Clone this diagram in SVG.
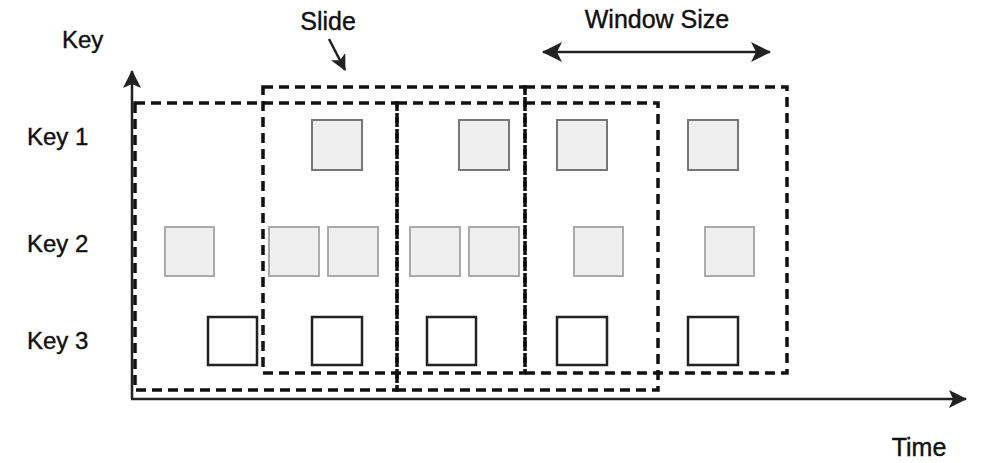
<svg xmlns="http://www.w3.org/2000/svg" width="1000" height="463" viewBox="0 0 1000 463">
<style>
text{font-family:"Liberation Sans",Arial,sans-serif;fill:#111;stroke:#111;stroke-width:0.4;}
.lbl{font-size:24px;}
.top{font-size:25px;}
.win{fill:none;stroke:#111;stroke-width:3.5;stroke-dasharray:10 6;}
.k1{fill:#efefef;stroke:#777;stroke-width:2;}
.k2{fill:#efefef;stroke:#aaa;stroke-width:2;}
.k3{fill:#fff;stroke:#222;stroke-width:2.5;}
.ax{stroke:#222;stroke-width:2.5;fill:none;}
</style>
<defs>
<marker id="ah" viewBox="0 0 16 16" refX="15" refY="8" markerWidth="16" markerHeight="16" markerUnits="userSpaceOnUse" orient="auto-start-reverse">
<path d="M0,0 L16,8 L0,16 L4,8 Z" fill="#222"/>
</marker>
<marker id="ah2" viewBox="0 0 20 20" refX="19" refY="10" markerWidth="20" markerHeight="20" markerUnits="userSpaceOnUse" orient="auto-start-reverse">
<path d="M0,0 L20,10 L0,20 L5,10 Z" fill="#222"/>
</marker>
<marker id="ah3" viewBox="0 0 18 18" refX="17" refY="9" markerWidth="18" markerHeight="18" markerUnits="userSpaceOnUse" orient="auto">
<path d="M0,0 L18,9 L0,18 L4,9 Z" fill="#222"/>
</marker>
</defs>
<g id="labels">
<text class="lbl" x="62" y="48">Key</text>
<text class="lbl" x="27" y="145">Key 1</text>
<text class="lbl" x="27" y="252">Key 2</text>
<text class="lbl" x="27" y="349">Key 3</text>
<text class="top" x="328" y="30" text-anchor="middle">Slide</text>
<text class="top" x="657" y="28" text-anchor="middle">Window Size</text>
<text class="top" x="919" y="456" text-anchor="middle">Time</text>
</g>
<g id="windows">
<rect id="w1" class="win" x="135" y="103" width="262" height="287"/>
<rect id="w2" class="win" x="263" y="87" width="262" height="286"/>
<rect id="w3" class="win" x="397" y="103" width="261" height="287"/>
<rect id="w4" class="win" x="525" y="87" width="262" height="286"/>
</g>
<g id="key1-events">
<rect class="k1" x="312" y="120" width="50" height="50"/>
<rect class="k1" x="459" y="120" width="50" height="50"/>
<rect class="k1" x="557" y="120" width="50" height="50"/>
<rect class="k1" x="688" y="120" width="50" height="50"/>
</g>
<g id="key2-events">
<rect class="k2" x="165" y="227" width="49" height="49"/>
<rect class="k2" x="269" y="227" width="50" height="49"/>
<rect class="k2" x="328" y="227" width="50" height="49"/>
<rect class="k2" x="410" y="227" width="50" height="49"/>
<rect class="k2" x="469" y="227" width="50" height="49"/>
<rect class="k2" x="574" y="227" width="49" height="49"/>
<rect class="k2" x="705" y="227" width="49" height="49"/>
</g>
<g id="key3-events">
<rect class="k3" x="208" y="317" width="49" height="48"/>
<rect class="k3" x="312" y="317" width="50" height="48"/>
<rect class="k3" x="427" y="317" width="49" height="48"/>
<rect class="k3" x="557" y="317" width="50" height="48"/>
<rect class="k3" x="688" y="317" width="50" height="48"/>
</g>
<g id="connectors">
<line class="ax" x1="132" y1="399" x2="132" y2="71" marker-end="url(#ah3)"/>
<line class="ax" x1="131" y1="399" x2="966" y2="399" marker-end="url(#ah3)"/>
<line class="ax" x1="329" y1="39" x2="345" y2="70" marker-end="url(#ah)"/>
<line class="ax" x1="543" y1="52" x2="770" y2="52" stroke-width="3" marker-start="url(#ah2)" marker-end="url(#ah2)"/>
</g>
</svg>
